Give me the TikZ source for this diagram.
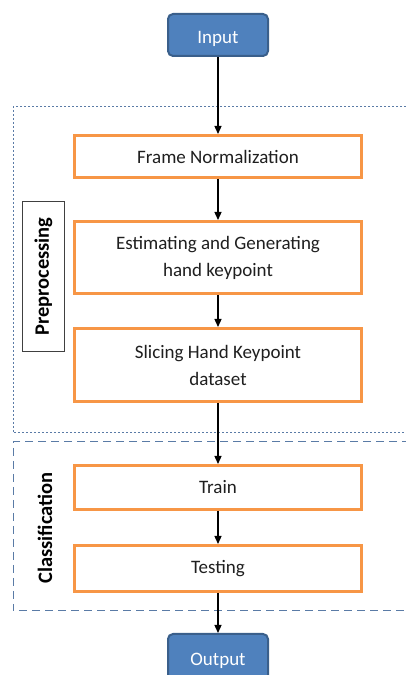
\documentclass[tikz,border=0pt]{standalone}
\usepackage{fontspec}
\setmainfont{Carlito}
\usepackage{tikz}
\usetikzlibrary{positioning,arrows.meta}
\usepackage{xcolor}
\definecolor{stepedge}{HTML}{F79646}
\definecolor{termfill}{HTML}{4F81BD}
\definecolor{termedge}{HTML}{3A5F8B}
\definecolor{groupedge}{HTML}{5A7BA6}
\definecolor{steptext}{HTML}{1F1F1F}

\tikzset{
  stepbox/.style={draw=stepedge,line width=3pt,fill=white,minimum width=287pt,
    align=center,text=steptext,font=\fontsize{19}{27}\selectfont},
  termbox/.style={draw=termedge,fill=termfill,line width=2pt,rounded corners=5pt,
    minimum width=100pt,minimum height=42pt,text=white,font=\fontsize{19}{23}\selectfont},
  grouplabel/.style={rotate=90,font=\bfseries\fontsize{20.5}{24}\selectfont,text=black},
  flow/.style={->,line width=1.3pt},
}

\begin{document}
\begin{tikzpicture}[>={Triangle[length=8pt,width=7pt]}]
\useasboundingbox (0,0) rectangle (406pt,675pt);
% group frames
\draw[groupedge,line width=1pt,dash pattern=on 2pt off 2pt] (410pt,568pt) -- (13pt,568pt) -- (13pt,242pt) -- (410pt,242pt);
\draw[groupedge,line width=1pt,dash pattern=on 8pt off 5pt] (410pt,233pt) -- (13pt,233pt) -- (13pt,64pt) -- (410pt,64pt);
\node (prep) [grouplabel,draw=black!75,line width=1.2pt,minimum width=150pt,minimum height=42pt] at (43.5pt,398.5pt) {Preprocessing};
\node (clas) [grouplabel] at (45pt,147pt) {Classification};
% flow
\node (in) [termbox,text depth=0pt,text height=18pt] at (218pt,640pt) {Input};
\node (fn) [stepbox,minimum height=42pt,below=77pt of in] {Frame Normalization};
\node (est) [stepbox,minimum height=72pt,below=41pt of fn] {Estimating and Generating\\hand keypoint};
\node (slice) [stepbox,minimum height=73pt,below=32pt of est] {Slicing Hand Keypoint\\dataset};
\node (train) [stepbox,minimum height=44pt,below=61pt of slice] {Train};
\node (test) [stepbox,minimum height=46pt,below=33pt of train] {Testing};
\node (out) [termbox,minimum height=54pt,below=40pt of test] {Output};
\draw[flow] (in) -- (fn);
\draw[flow] (fn) -- (est);
\draw[flow] (est) -- (slice);
\draw[flow] (slice) -- (train);
\draw[flow] (train) -- (test);
\draw[flow] (test) -- (out);
\end{tikzpicture}
\end{document}
